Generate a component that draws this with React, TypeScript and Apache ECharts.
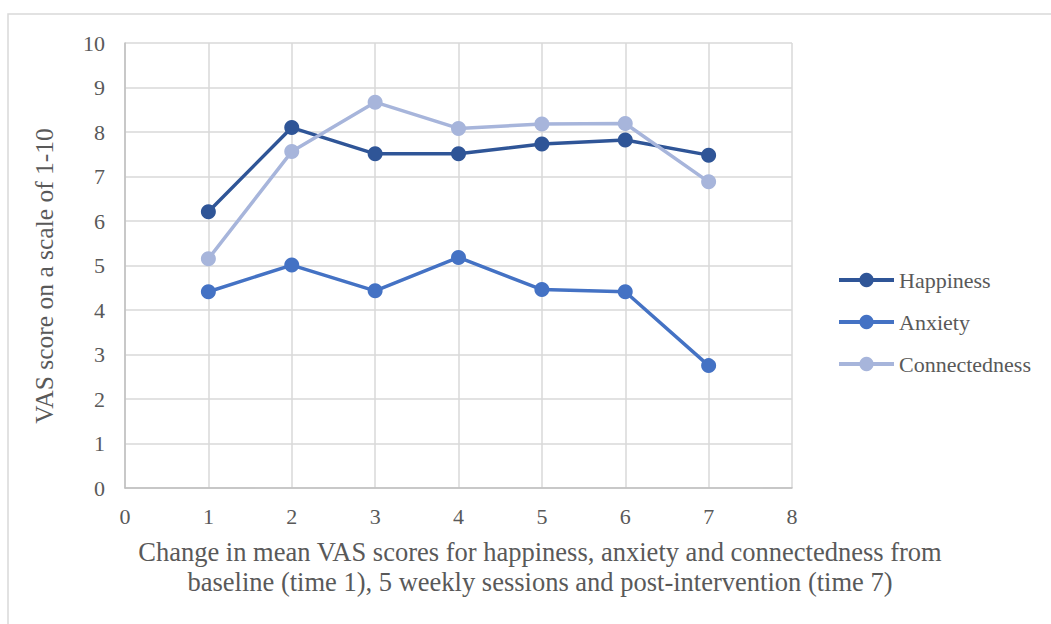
import React, { useEffect, useRef } from "react";
import * as echarts from "echarts";

const seriesNames = ["Happiness", "Anxiety", "Connectedness"];
const times = [1, 2, 3, 4, 5, 6, 7];
const happiness = [6.21, 8.1, 7.51, 7.51, 7.73, 7.82, 7.48];
const anxiety = [4.41, 5.01, 4.43, 5.18, 4.46, 4.41, 2.75];
const connectedness = [5.15, 7.56, 8.67, 8.08, 8.18, 8.19, 6.88];
const colors = ["#2F5597", "#4472C4", "#A7B5DB"];
const xTitle = "Change in mean VAS scores for happiness, anxiety and connectedness from\nbaseline (time 1), 5 weekly sessions and post-intervention (time 7)";
const yTitle = "VAS score on a scale of 1-10";

const FONT = "'Liberation Serif', 'Times New Roman', serif";
const TXT = "#595959";

export default function App() {
  const ref = useRef<HTMLDivElement>(null);
  useEffect(() => {
    if (!ref.current) return;
    const chart = echarts.init(ref.current, undefined, { renderer: "svg" });
    const allData = [happiness, anxiety, connectedness];
    chart.setOption({
      animation: false,
      backgroundColor: "#ffffff",
      grid: { left: 125, right: 259, top: 43, bottom: 136 },
      xAxis: {
        type: "value",
        min: 0,
        max: 8,
        interval: 1,
        axisLine: { show: true, lineStyle: { color: "#BFBFBF", width: 1.5 } },
        axisTick: { show: false },
        axisLabel: { color: TXT, fontFamily: FONT, fontSize: 22, margin: 17 },
        splitLine: { show: true, lineStyle: { color: "#D9D9D9", width: 1.5 } },
      },
      yAxis: {
        type: "value",
        min: 0,
        max: 10,
        interval: 1,
        axisLine: { show: true, lineStyle: { color: "#BFBFBF", width: 1.5 } },
        axisTick: { show: false },
        axisLabel: { color: TXT, fontFamily: FONT, fontSize: 22, margin: 20 },
        splitLine: { show: true, lineStyle: { color: "#D9D9D9", width: 1.5 } },
      },
      legend: {
        orient: "vertical",
        left: 837,
        top: 269,
        padding: 0,
        itemWidth: 55,
        itemHeight: 18,
        itemGap: 20,
        lineStyle: { width: 4 },
        textStyle: { color: TXT, fontFamily: FONT, fontSize: 22, lineHeight: 22 },
        data: seriesNames,
      },
      graphic: [
        {
          type: "rect",
          shape: { x: 8, y: 14, width: 1200, height: 800 },
          style: { fill: "none", stroke: "#D9D9D9", lineWidth: 1.5 },
          silent: true,
        },
        {
          type: "text",
          x: 540,
          y: 567,
          style: {
            text: xTitle,
            font: `26.5px ${FONT}`,
            fill: TXT,
            textAlign: "center",
            textVerticalAlign: "middle",
            lineHeight: 30,
          },
        },
        {
          type: "text",
          x: 44,
          y: 276,
          rotation: Math.PI / 2,
          style: {
            text: yTitle,
            font: `25.5px ${FONT}`,
            fill: TXT,
            textAlign: "center",
            textVerticalAlign: "middle",
          },
        },
      ],
      series: seriesNames.map((name, i) => ({
        name,
        type: "line",
        data: times.map((t, j) => [t, allData[i][j]]),
        symbol: "circle",
        symbolSize: 15,
        color: colors[i],
        lineStyle: { color: colors[i], width: 3.5 },
        itemStyle: { color: colors[i] },
      })),
    });
    return () => chart.dispose();
  }, []);
  return (
    <div
      ref={ref}
      style={{ position: "fixed", left: 0, top: 0, width: 1051, height: 624 }}
    />
  );
}
